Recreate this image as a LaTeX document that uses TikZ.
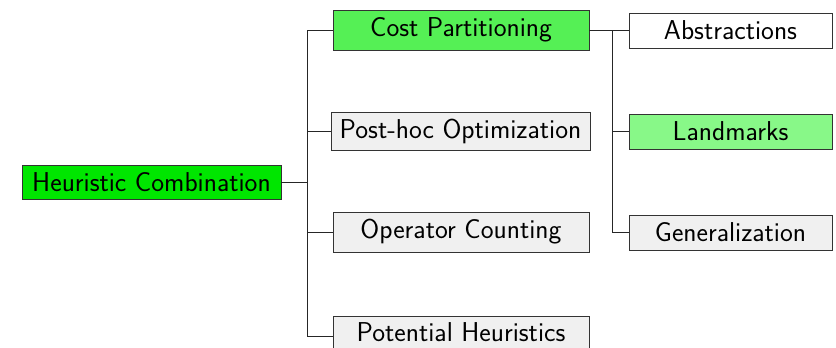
\documentclass[tikz,border=0pt]{standalone}
\usepackage{fontspec}
\definecolor{hcgreen}{RGB}{0,230,0}
\definecolor{cpgreen}{RGB}{85,240,85}
\definecolor{lmgreen}{RGB}{136,248,136}
\definecolor{boxgray}{RGB}{240,240,240}
\begin{document}
\begin{tikzpicture}[x=1pt,y=-1pt,
  box/.style={draw=black!80, line width=0.8pt, font=\sffamily\fontsize{27.3}{32}\selectfont, inner sep=0pt, anchor=center},
  wide/.style={box, minimum width=256pt, minimum height=40pt},
  leaf/.style={box, minimum width=203pt, minimum height=35pt},
  conn/.style={draw=black!85, line width=0.8pt}]
\useasboundingbox (0,0) rectangle (836,348);
\node[box, fill=hcgreen, minimum width=259pt, minimum height=34pt] (hc) at (151.5,182) {Heuristic Combination};
\node[wide, fill=cpgreen] (cp) at (461,30) {Cost Partitioning};
\node[wide, fill=boxgray, minimum width=259pt, minimum height=38pt] (ph) at (460.5,131) {Post-hoc Optimization};
\node[wide, fill=boxgray] (oc) at (461,232) {Operator Counting};
\node[wide, fill=boxgray, text depth=8pt] (pot) at (461,336) {Potential Heuristics};
\node[leaf, fill=white] (ab) at (730.5,30.5) {Abstractions};
\node[leaf, fill=lmgreen] (lm) at (730.5,131.5) {Landmarks};
\node[leaf, fill=boxgray] (gen) at (730.5,232.5) {Generalization};
\coordinate (j1) at (307,0);
\coordinate (j2) at (612,0);
\draw[conn] (hc.east) -- (hc.east -| j1);
\draw[conn] (j1 |- cp.west) -- (j1 |- pot.west);
\foreach \n in {cp,ph,oc,pot} \draw[conn] (j1 |- \n.west) -- (\n.west);
\draw[conn] (cp.east) -- (cp.east -| j2);
\draw[conn] (j2 |- cp.east) -- (j2 |- gen.west);
\foreach \n in {ab,lm,gen} \draw[conn] (j2 |- \n.west) -- (\n.west);
\end{tikzpicture}
\end{document}
